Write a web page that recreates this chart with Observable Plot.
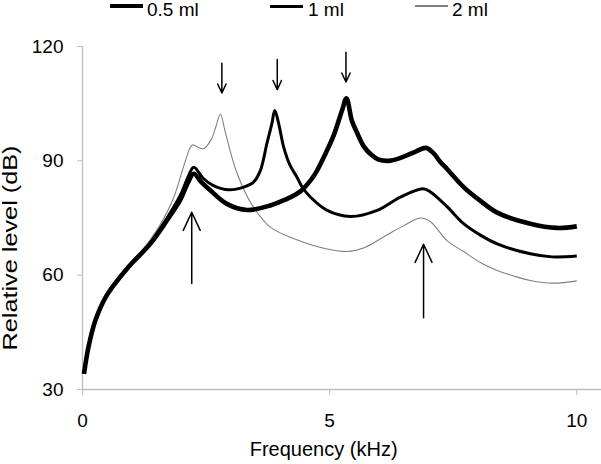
<!DOCTYPE html>
<html>
<head>
<meta charset="utf-8">
<script src="https://cdn.jsdelivr.net/npm/d3@7"></script>
<script src="https://cdn.jsdelivr.net/npm/@observablehq/plot@0.6"></script>
<style>
  body { margin: 0; background: #fff; font-family: "Liberation Sans", Arial, sans-serif; }
  #legend { position: relative; width: 601px; height: 34px; }
  .sw { position: absolute; }
  .lt { position: absolute; top: 0; font-size: 19px; line-height: 19px; color: #000; white-space: nowrap; }
</style>
</head>
<body>
<div id="legend"></div>
<div id="chart"></div>
<script>
// Series names
const seriesNames = ["0.5 ml", "1 ml", "2 ml"];

// 0.5 ml
const freqA = [0.03, 0.12, 0.26, 0.49, 0.9, 1.37, 1.71, 1.98, 2.13, 2.25, 2.4, 2.59, 2.92, 3.33, 3.8, 4.1, 4.41, 4.61, 4.74, 4.92, 5.08, 5.25, 5.34, 5.45, 5.55, 5.69, 5.85, 5.98, 6.2, 6.5, 6.75, 6.95, 7.1, 7.24, 7.38, 7.71, 8.05, 8.39, 9.06, 9.6, 10.0];
const levelA = [34.1, 41.1, 48.1, 54.7, 61.7, 68.2, 74.4, 79.8, 84.2, 86.6, 84.5, 82.2, 78.7, 77.1, 78.3, 79.8, 82.0, 84.8, 87.3, 92.0, 96.6, 103.2, 106.4, 100.5, 97.5, 93.8, 91.5, 90.4, 90.0, 91.1, 92.5, 93.4, 92.0, 89.7, 87.8, 83.1, 79.5, 76.4, 73.5, 72.4, 72.8];

// 1 ml
const freqB = [0.03, 0.12, 0.26, 0.49, 0.9, 1.37, 1.71, 1.98, 2.13, 2.25, 2.45, 2.65, 2.96, 3.26, 3.46, 3.6, 3.73, 3.83, 3.89, 3.97, 4.07, 4.2, 4.34, 4.44, 4.61, 4.95, 5.42, 5.96, 6.43, 6.89, 7.04, 7.38, 7.71, 8.05, 8.39, 9.06, 9.5, 10.0];
const levelB = [34.1, 41.1, 48.1, 54.7, 61.7, 68.4, 75.0, 81.0, 85.6, 88.3, 85.3, 83.5, 82.4, 83.1, 84.4, 87.5, 94.5, 99.7, 103.2, 99.7, 93.6, 88.8, 85.7, 83.2, 80.5, 77.0, 75.4, 77.0, 80.5, 82.7, 81.8, 77.9, 73.5, 70.5, 68.2, 65.6, 64.8, 65.0];

// 2 ml
const freqC = [0.03, 0.12, 0.26, 0.49, 0.9, 1.2, 1.37, 1.57, 1.84, 2.04, 2.18, 2.23, 2.3, 2.45, 2.6, 2.7, 2.79, 2.88, 3.0, 3.13, 3.3, 3.46, 3.8, 4.27, 4.9, 5.35, 5.7, 6.09, 6.5, 6.84, 7.04, 7.38, 7.71, 8.05, 8.39, 8.72, 9.06, 9.53, 10.0];
const levelC = [34.1, 41.1, 48.1, 54.7, 62.0, 66.5, 69.3, 73.2, 80.2, 88.3, 93.5, 94.2, 93.8, 93.2, 95.5, 99.0, 102.3, 98.0, 92.0, 86.6, 81.5, 77.8, 72.6, 69.6, 67.0, 66.2, 67.2, 70.0, 73.0, 75.0, 74.0, 69.0, 66.2, 63.3, 61.2, 59.8, 58.6, 57.9, 58.5];

// Arrows (kHz, dB): tail -> tip
const arrowX = [2.82, 3.94, 5.33, 2.21, 6.90];
const arrowFrom = [115.6, 116.6, 118.5, 57.8, 48.8];
const arrowTo = [107.8, 108.7, 110.7, 76.5, 68.1];
const arrowBig = [false, false, false, true, true];

// Axes
const xTicks = [0, 5, 10];
const yTicks = [30, 60, 90, 120];
const xLabel = "Frequency (kHz)";
const yLabel = "Relative level (dB)";

const styles = [
  {stroke: "#000", width: 4.6},
  {stroke: "#000", width: 3},
  {stroke: "#808080", width: 1.1}
];

const toRows = (fx, ly, s) => fx.map((f, i) => ({f, v: ly[i], s}));
const rows = [
  ...toRows(freqA, levelA, seriesNames[0]),
  ...toRows(freqB, levelB, seriesNames[1]),
  ...toRows(freqC, levelC, seriesNames[2])
];
const arrows = arrowX.map((x, i) => ({x, y1: arrowFrom[i], y2: arrowTo[i], big: arrowBig[i]}));

// Legend
const legend = document.getElementById("legend");
const legendPos = [{lx: 110, tx: 147}, {lx: 270, tx: 308}, {lx: 415, tx: 452}];
seriesNames.forEach((name, i) => {
  const sw = document.createElement("div");
  sw.className = "sw";
  sw.style.left = legendPos[i].lx + "px";
  sw.style.width = "33px";
  sw.style.height = styles[i].width + "px";
  sw.style.top = (6 - styles[i].width / 2) + "px";
  sw.style.background = styles[i].stroke;
  legend.appendChild(sw);
  const t = document.createElement("div");
  t.className = "lt";
  t.style.left = legendPos[i].tx + "px";
  t.textContent = name;
  legend.appendChild(t);
});

const plot = Plot.plot({
  width: 601,
  height: 430,
  marginTop: 12,
  marginBottom: 75,
  marginLeft: 82,
  marginRight: 0,
  style: {fontFamily: "'Liberation Sans', Arial, sans-serif", fontSize: "19px", color: "#000", background: "#fff", overflow: "visible"},
  x: {domain: [0, 10.5]},
  y: {domain: [30, 120]},
  marks: [
    Plot.ruleY([30], {stroke: "#bdbdbd", strokeWidth: 1.3}),
    Plot.ruleX([0], {stroke: "#bdbdbd", strokeWidth: 1.3}),
    Plot.axisX({ticks: xTicks, tickSize: 6, tickPadding: 18, stroke: "#bdbdbd", label: null, fontSize: 19, tickFormat: d => String(d)}),
    Plot.axisY({ticks: yTicks, tickSize: 5, tickPadding: 14, stroke: "#bdbdbd", label: null, fontSize: 19}),
    ...seriesNames.map((name, i) => Plot.line(rows.filter(r => r.s === name), {
      x: "f", y: "v", stroke: styles[i].stroke, strokeWidth: styles[i].width,
      curve: "catmull-rom", strokeLinejoin: "round", strokeLinecap: "butt"
    })).reverse(),
    Plot.arrow(arrows.filter(a => !a.big), {x1: "x", x2: "x", y1: "y1", y2: "y2", stroke: "#000", strokeWidth: 1.5, headLength: 12, headAngle: 50}),
    Plot.arrow(arrows.filter(a => a.big), {x1: "x", x2: "x", y1: "y1", y2: "y2", stroke: "#000", strokeWidth: 1.5, headLength: 20, headAngle: 50}),
    Plot.text([yLabel], {text: d => d, frameAnchor: "left", textAnchor: "middle", dx: -72, dy: 30, rotate: -90, fontSize: 20}),
    Plot.text([xLabel], {text: d => d, x: () => d3.mean(xTicks), frameAnchor: "bottom", dx: -6, dy: 66, fontSize: 20})
  ]
});
// stretch the rotated y label slightly, as in the reference
plot.querySelectorAll("text").forEach(t => {
  if (t.textContent === yLabel) {
    t.setAttribute("textLength", "205");
    t.setAttribute("lengthAdjust", "spacingAndGlyphs");
  }
});
document.getElementById("chart").appendChild(plot);
</script>
</body>
</html>
